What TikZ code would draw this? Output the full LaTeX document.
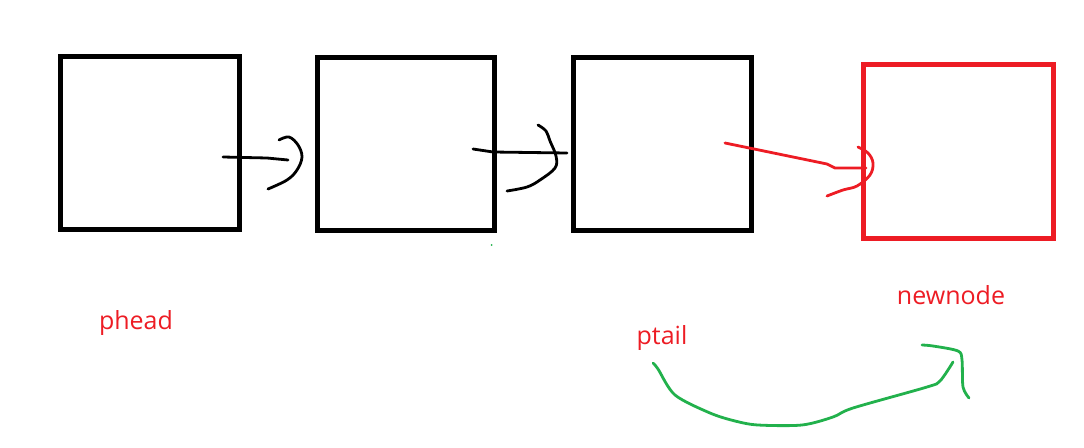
\documentclass[tikz,border=0pt]{standalone}
\usepackage{fontspec}
\setmainfont{Open Sans}
\definecolor{pred}{HTML}{ED1C24}
\definecolor{pgreen}{HTML}{22B14C}
\begin{document}
\begin{tikzpicture}[x=1pt,y=-1pt,
  box/.style={draw=black,line width=5pt,inner sep=0pt},
  redbox/.style={draw=pred,line width=5pt,inner sep=0pt},
  stroke/.style={line width=2.8pt,line cap=round,line join=round},
  lbl/.style={text=pred,font=\fontsize{25}{28}\selectfont,inner sep=0pt}]
\useasboundingbox (0,0) rectangle (1084,447);
\node[box,minimum width=179pt,minimum height=173pt] (b1) at (150,143) {};
\node[box,minimum width=177pt,minimum height=173pt] (b2) at (405.5,143.5) {};
\node[box,minimum width=178pt,minimum height=173pt] (b3) at (662,143.5) {};
\node[redbox,minimum width=190pt,minimum height=174pt] (b4) at (958.5,151.5) {};
\node[lbl] (phead) at (136,323) {phead};
\node[lbl] (ptail) at (662,338) {ptail};
\node[lbl] (newnode) at (951,295) {newnode};
% arrow b1 -> b2
\draw[stroke] (223,157) -- (267,158) -- (288,160);
\draw[stroke] plot[smooth,tension=0.6] coordinates {(279,140) (289,137) (298,145) (302,157) (297,170) (287,180) (268,189)};
% arrow b2 -> b3
\draw[stroke] (473,149) -- (493,152) -- (567,153);
\draw[stroke] plot[smooth,tension=0.6] coordinates {(538,125) (546,131) (550,141) (556,156) (555,168) (540,180) (527,187) (507,191)};
% red arrow b3 -> b4
\draw[stroke,pred] (725,143) -- (827,164) -- (835,168) -- (866,168);
\draw[stroke,pred] plot[smooth,tension=0.6] coordinates {(858,147) (868,153) (873,163) (870,175) (857,186) (843,190) (827,196)};
% green arrow ptail -> newnode
\draw[stroke,pgreen] plot[smooth,tension=0.5] coordinates {(653,363) (658,369) (675,395) (710,413) (735,421) (758,425) (802,425) (833,417) (853,408) (927,387) (940,381) (953,362)};
\draw[stroke,pgreen] plot[smooth,tension=0.5] coordinates {(922,345) (933,346) (958,351) (962,360) (963,387) (969,398)};
\fill[pgreen] (491.5,245) circle (1pt);
\end{tikzpicture}
\end{document}
